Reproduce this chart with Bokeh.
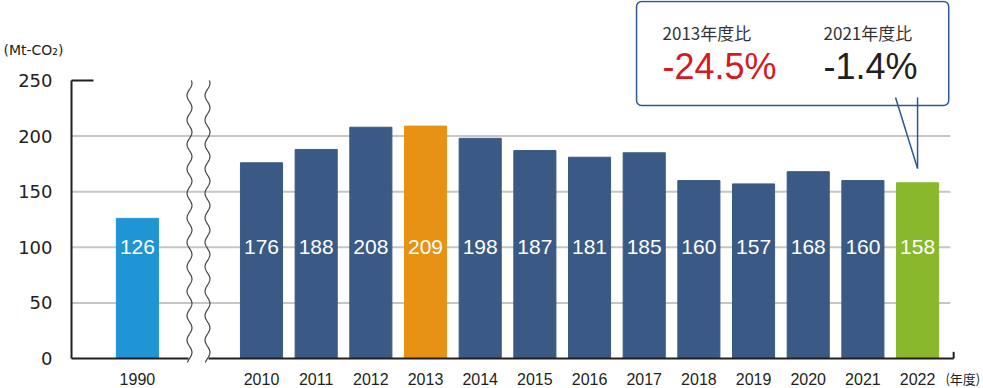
import numpy as np
from bokeh.plotting import figure
from bokeh.models import Range1d, BoxAnnotation, ColumnDataSource
from bokeh.core.properties import value
from bokeh.embed import file_html
from bokeh.resources import INLINE

# ---- data ----
years = ["1990", "2010", "2011", "2012", "2013", "2014", "2015", "2016",
         "2017", "2018", "2019", "2020", "2021", "2022"]
emissions = [126, 176, 188, 208, 209, 198, 187, 181, 185, 160, 157, 168, 160, 158]
y_ticks = [0, 50, 100, 150, 200, 250]
unit_label = "(Mt-CO₂)"
x_unit_label = "(年度)"
cmp_titles = ["2013年度比", "2021年度比"]
cmp_values = ["-24.5%", "-1.4%"]

# ---- layout constants ----
GAP_1990 = -2.27          # position of the 1990 bar (break in axis)
X0, X1 = -4.774, 13.206
Y0, Y1 = -26.98, 321.94
AXIS_X = -3.475
TICKLAB_X = -3.823
END_X = 12.66
BREAK_L, BREAK_R = -1.335, -0.969
WAVE_X = [-1.317, -0.988]
DARK = "#3a5a85"
TXT = "#231f20"
CALLOUT = "#2b5797"


def bar_color(y):
    if y == "1990":
        return "#1f95d5"
    if y == "2013":
        return "#e89214"
    if y == "2022":
        return "#8ab82c"
    return DARK


xs = [GAP_1990 if y == "1990" else int(y) - 2010 for y in years]
src = ColumnDataSource(dict(x=xs, top=emissions, year=years,
                            color=[bar_color(y) for y in years],
                            label=[str(v) for v in emissions],
                            ly=[100] * len(years), yy=[-18] * len(years)))

p = figure(width=983, height=388, x_range=Range1d(X0, X1), y_range=Range1d(Y0, Y1),
           x_axis_type=None, y_axis_type=None, output_backend="svg", toolbar_location=None,
           min_border_left=0, min_border_right=0, min_border_top=0, min_border_bottom=0)
p.outline_line_color = None
p.grid.visible = False

# y tick labels
p.text(x=[TICKLAB_X] * len(y_ticks), y=y_ticks, text=[str(t) for t in y_ticks],
       text_align="right", text_baseline="middle", text_color=TXT,
       text_font=value("DejaVu Sans"), text_font_size="18px")

# gridlines
gv = [t for t in y_ticks if 0 < t < 250]
p.segment(x0=[AXIS_X] * len(gv), y0=gv, x1=[12.60] * len(gv), y1=gv,
          line_color="#c6c6c6", line_width=2)

# bars
p.vbar(x="x", top="top", width=0.77, bottom=0, color="color", source=src)

# bar labels
p.text(x="x", y="ly", text="label", source=src, text_align="center", text_baseline="middle",
       text_color="white", text_font=value("Liberation Sans"), text_font_size="21px")

# year labels
p.text(x="x", y="yy", text="year", source=src, text_align="center", text_baseline="middle",
       text_color=TXT, text_font=value("Liberation Sans"), text_font_size="16px")
p.text(x=[12.51], y=[-18], text=[x_unit_label], text_align="left", text_baseline="middle",
       text_color=TXT, text_font=value("Noto Sans CJK JP"), text_font_size="13px")

# unit label
p.text(x=[-4.72], y=[277], text=[unit_label], text_align="left", text_baseline="middle",
       text_color=TXT, text_font=value("DejaVu Sans"), text_font_size="14px")

# axis lines
p.segment(x0=[AXIS_X], y0=[0], x1=[AXIS_X], y1=[250], line_color=TXT, line_width=2)
p.segment(x0=[AXIS_X], y0=[250], x1=[-3.073], y1=[250], line_color=TXT, line_width=2)
p.segment(x0=[AXIS_X, BREAK_R], y0=[0, 0], x1=[BREAK_L, END_X], y1=[0, 0],
          line_color=TXT, line_width=2)
p.segment(x0=[END_X], y0=[0], x1=[END_X], y1=[6], line_color=TXT, line_width=2)

# break marks (wavy lines)
wy = np.linspace(-3.6, 250, 300)
for wx in WAVE_X:
    p.line(wx + 0.045 * np.sin(2 * np.pi * wy / 22.0), wy, line_color="#444444", line_width=1.2)

# callout
p.add_layout(BoxAnnotation(left=6.86, right=12.57, top=321.0, bottom=227.5,
                           fill_color="white", fill_alpha=1.0, line_color=CALLOUT,
                           line_alpha=1.0, line_width=1.5, border_radius=5, level="underlay"))
p.segment(x0=[11.597, 12.0], y0=[234.7, 234.7], x1=[12.0, 12.0], y1=[170.9, 170.9],
          line_color=CALLOUT, line_width=1.5)
p.text(x=[7.335, 10.28], y=[293.6, 293.6], text=cmp_titles, text_align="left",
       text_baseline="middle", text_color="#333333", text_font=value("Noto Sans CJK JP"),
       text_font_size="17px")
p.text(x=[7.335, 10.28], y=[263.0, 263.0], text=cmp_values, text_align="left",
       text_baseline="middle", text_color=["#d7191f", TXT],
       text_font=value("Liberation Sans"), text_font_size="36px")

open("out.html", "w").write(file_html(p, INLINE))
